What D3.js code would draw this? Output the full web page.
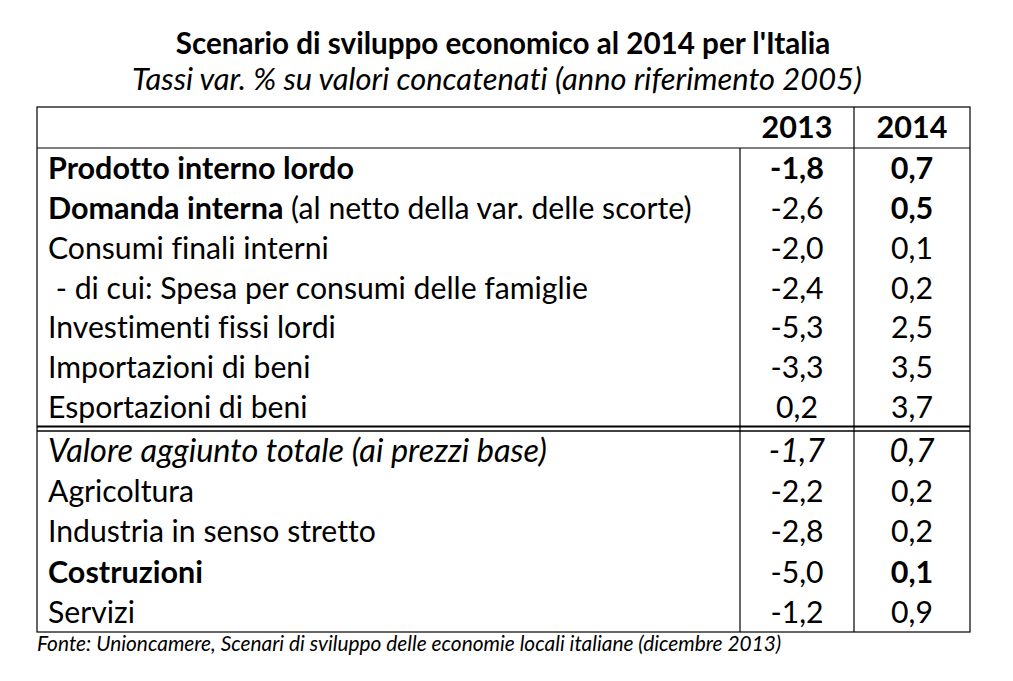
<!DOCTYPE html>
<html>
<head>
<meta charset="utf-8">
<script src="https://d3js.org/d3.v7.min.js"></script>
<style>
  body { margin: 0; background: #fff; }
  svg { display: block; }
  text { font-family: Lato, "Open Sans", sans-serif; fill: #000; white-space: pre;
         font-variant-ligatures: none; font-feature-settings: "liga" 0, "clig" 0; }
</style>
</head>
<body>
<svg width="1013" height="681"></svg>
<script>
const title = "Scenario di sviluppo economico al 2014 per l'Italia";
const subtitle = "Tassi var. % su valori concatenati (anno riferimento 2005)";
const source = "Fonte: Unioncamere, Scenari di sviluppo delle economie locali italiane (dicembre 2013)";
const years = ["2013", "2014"];

const topRows = ["Prodotto interno lordo", "Domanda interna", "Consumi finali interni",
  " - di cui: Spesa per consumi delle famiglie", "Investimenti fissi lordi",
  "Importazioni di beni", "Esportazioni di beni"];
const top2013 = [-1.8, -2.6, -2.0, -2.4, -5.3, -3.3, 0.2];
const top2014 = [0.7, 0.5, 0.1, 0.2, 2.5, 3.5, 3.7];

const bottomRows = ["Valore aggiunto totale (ai prezzi base)", "Agricoltura",
  "Industria in senso stretto", "Costruzioni", "Servizi"];
const bottom2013 = [-1.7, -2.2, -2.8, -5.0, -1.2];
const bottom2014 = [0.7, 0.2, 0.2, 0.1, 0.9];

// label suffixes and emphasis
const labelNotes = { "Domanda interna": " (al netto della var. delle scorte)" };
const boldLabels = ["Prodotto interno lordo", "Domanda interna", "Costruzioni"];
const italicRows = ["Valore aggiunto totale (ai prezzi base)"];
const bold2013 = ["Prodotto interno lordo"];
const bold2014 = ["Prodotto interno lordo", "Domanda interna", "Costruzioni"];

const svg = d3.select("svg");
const L = 37, R = 970, T = 107, B = 632;
const headBottom = 148, splitTop = 427, splitBottom = 431;

// columns
const x = d3.scaleOrdinal().domain(["label", "2013", "2014"]).range([48, 797, 912]);
const colEdges = [740, 854];

// rows
const yTop = d3.scaleBand().domain(topRows).range([headBottom, splitTop]);
const yBottom = d3.scaleBand().domain(bottomRows).range([splitBottom, B]);

const loc = d3.formatLocale({ decimal: ",", thousands: ".", grouping: [3], currency: ["", "€"], minus: "-" });
const fmt = loc.format(".1f");

// fit a font size so that a reference string gets the width seen in the picture
function fit(str, weight, style, target) {
  const t = svg.append("text").attr("font-size", 100)
    .attr("font-weight", weight).attr("font-style", style).text(str);
  const w = t.node().getComputedTextLength();
  t.remove();
  return 100 * target / w;
}
const fsReg = fit("Industria in senso stretto", "normal", "normal", 328);
const fsBold = fit("Prodotto interno lordo", "bold", "normal", 306);
const fsIt = fit("Valore aggiunto totale (ai prezzi base)", "normal", "italic", 499);
const fsTitle = fit(title, "bold", "normal", 655);
const fsSub = fit(subtitle, "normal", "italic", 730);
const fsSrc = fit(source, "normal", "italic", 745);

// titles
svg.append("text").attr("x", 503).attr("y", 54).attr("text-anchor", "middle")
  .attr("font-weight", "bold").attr("font-size", fsTitle).text(title);
svg.append("text").attr("x", 497).attr("y", 90).attr("text-anchor", "middle")
  .attr("font-style", "italic").attr("font-size", fsSub).text(subtitle);

// grid
const g = svg.append("g").attr("stroke", "#000").attr("fill", "none");
g.append("rect").attr("x", L).attr("y", T).attr("width", R - L).attr("height", B - T).attr("stroke-width", 1.2);
g.append("line").attr("x1", L).attr("x2", R).attr("y1", headBottom).attr("y2", headBottom).attr("stroke-width", 1.2);
g.append("line").attr("x1", colEdges[0]).attr("x2", colEdges[0]).attr("y1", headBottom).attr("y2", B).attr("stroke-width", 1.2);
g.append("line").attr("x1", colEdges[1]).attr("x2", colEdges[1]).attr("y1", T).attr("y2", B).attr("stroke-width", 1.2);
g.append("line").attr("x1", L).attr("x2", R).attr("y1", splitTop - 0.5).attr("y2", splitTop - 0.5).attr("stroke-width", 2.2);
g.append("line").attr("x1", L).attr("x2", R).attr("y1", splitBottom).attr("y2", splitBottom).attr("stroke-width", 1.4);

// header
svg.selectAll("text.year").data(years).enter().append("text")
  .attr("class", "year").attr("x", d => x(d)).attr("y", 138)
  .attr("text-anchor", "middle").attr("font-weight", "bold").attr("font-size", fsBold)
  .text(d => d);

function drawRows(rows, v13, v14, y, dy) {
  const data = rows.map((r, i) => ({ name: r, v13: v13[i], v14: v14[i] }));
  const row = svg.append("g").selectAll("g").data(data).enter().append("g")
    .attr("transform", d => `translate(0,${y(d.name) + dy})`);

  const lab = row.append("text").attr("x", x("label"));
  lab.each(function (d) {
    const t = d3.select(this);
    const it = italicRows.includes(d.name);
    const b = boldLabels.includes(d.name);
    t.append("tspan")
      .attr("font-weight", b ? "bold" : "normal")
      .attr("font-style", it ? "italic" : "normal")
      .attr("font-size", b ? fsBold : it ? fsIt : fsReg)
      .text(d.name);
    if (labelNotes[d.name]) {
      t.append("tspan").attr("font-size", fsReg).text(labelNotes[d.name]);
    }
  });

  [["2013", "v13", bold2013], ["2014", "v14", bold2014]].forEach(([yr, key, bolds]) => {
    row.append("text").attr("x", x(yr)).attr("text-anchor", "middle")
      .attr("font-weight", d => bolds.includes(d.name) ? "bold" : "normal")
      .attr("font-style", d => italicRows.includes(d.name) ? "italic" : "normal")
      .attr("font-size", d => bolds.includes(d.name) ? fsBold : italicRows.includes(d.name) ? fsIt : fsReg)
      .text(d => fmt(d[key]));
  });
}
drawRows(topRows, top2013, top2014, yTop, 31);
drawRows(bottomRows, bottom2013, bottom2014, yBottom, 31);

// source
svg.append("text").attr("x", 37).attr("y", 651)
  .attr("font-style", "italic").attr("font-size", fsSrc).text(source);
</script>
</body>
</html>
